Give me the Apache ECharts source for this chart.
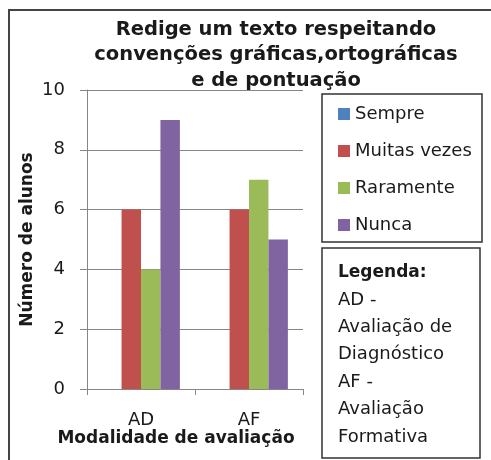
<!DOCTYPE html>
<html>
<head>
<meta charset="utf-8">
<script src="https://cdn.jsdelivr.net/npm/echarts@6/dist/echarts.min.js"></script>
<style>html,body{margin:0;padding:0;background:#fff;}#c{width:491px;height:460px;}</style>
</head>
<body>
<div id="c"></div>
<script>
var categories = ['AD', 'AF'];
var seriesNames = ['Sempre', 'Muitas vezes', 'Raramente', 'Nunca'];
var sempre = [0, 0];
var muitasVezes = [6, 6];
var raramente = [4, 7];
var nunca = [9, 5];
var yTicks = [0, 2, 4, 6, 8, 10];
var titleLines = ['Redige um texto respeitando', 'convenções gráficas,ortográficas', 'e de pontuação'];
var noteTitle = 'Legenda:';
var noteLines = ['AD -', 'Avaliação de', 'Diagnóstico', 'AF -', 'Avaliação', 'Formativa'];
var colors = ['#4F81BD', '#C0504D', '#9BBB59', '#8064A2'];

var chart = echarts.init(document.getElementById('c'));
var values = [sempre, muitasVezes, raramente, nunca];
var uiFont = 'DejaVu Sans';
var series = seriesNames.map(function (n, i) {
  return {
    name: n, type: 'bar', data: values[i],
    barGap: '0%', barCategoryGap: '28%',
    itemStyle: { color: colors[i] }
  };
});
chart.setOption({
  animation: false,
  color: colors,
  title: {
    text: titleLines.join('\n'),
    left: 271, top: 12, textAlign: 'center',
    textStyle: { fontFamily: 'DejaVu Sans', fontWeight: 'bold', fontSize: 19.5, lineHeight: 25.5, color: '#1a1a1a' }
  },
  legend: {
    orient: 'vertical', left: 333, top: 100,
    itemWidth: 12, itemHeight: 12, itemGap: 19,
    icon: 'rect',
    textStyle: { fontFamily: uiFont, fontSize: 18, color: '#1a1a1a' },
    data: seriesNames
  },
  grid: { left: 87, right: 188, top: 90, bottom: 71 },
  xAxis: {
    type: 'category', data: categories,
    name: 'Modalidade de avaliação', nameLocation: 'middle', nameGap: 41,
    nameMoveOverlap: false,
    nameTextStyle: { fontFamily: uiFont, fontWeight: 'bold', fontSize: 17, color: '#1a1a1a', padding: [0, 38, 0, 0] },
    axisLine: { lineStyle: { color: '#868686', width: 1 } },
    axisTick: { show: true, length: 6, lineStyle: { color: '#868686' } },
    axisLabel: { fontFamily: uiFont, fontSize: 18, color: '#1a1a1a', margin: 22 }
  },
  yAxis: {
    type: 'value', min: 0, max: 10, interval: 2,
    name: 'Número de alunos', nameLocation: 'middle', nameGap: 51,
    nameMoveOverlap: false,
    nameTextStyle: { fontFamily: uiFont, fontWeight: 'bold', fontSize: 17, color: '#1a1a1a' },
    axisLine: { show: true, lineStyle: { color: '#868686', width: 1 } },
    axisTick: { show: true, length: 7, lineStyle: { color: '#868686' } },
    axisLabel: {
      fontFamily: 'DejaVu Sans', fontSize: 18, color: '#1a1a1a', margin: 22,
      formatter: function (v) { return yTicks.indexOf(v) >= 0 ? String(v) : ''; }
    },
    splitLine: { show: true, lineStyle: { color: '#868686', width: 1 } }
  },
  graphic: [
    { type: 'line', shape: { x1: 9, y1: 10, x2: 9, y2: 460 }, style: { stroke: '#444', lineWidth: 2 } },
    { type: 'line', shape: { x1: 8, y1: 10, x2: 491, y2: 10 }, style: { stroke: '#444', lineWidth: 2 } },
    { type: 'rect', shape: { x: 322, y: 94, width: 160, height: 148 }, style: { fill: 'none', stroke: '#333', lineWidth: 1.5 } },
    { type: 'rect', shape: { x: 322, y: 248, width: 158, height: 210 }, style: { fill: 'none', stroke: '#333', lineWidth: 1.5 } },
    {
      type: 'text', left: 338, top: 264,
      style: {
        text: '{b|' + noteTitle + '}\n' + noteLines.map(function (l) { return '{n|' + l + '}'; }).join('\n'),
        rich: {
          b: { fontFamily: uiFont, fontWeight: 'bold', fontSize: 17, lineHeight: 27.4, fill: '#1a1a1a' },
          n: { fontFamily: uiFont, fontSize: 18, lineHeight: 27.4, fill: '#1a1a1a' }
        }
      }
    }
  ],
  series: series
});
</script>
</body>
</html>
